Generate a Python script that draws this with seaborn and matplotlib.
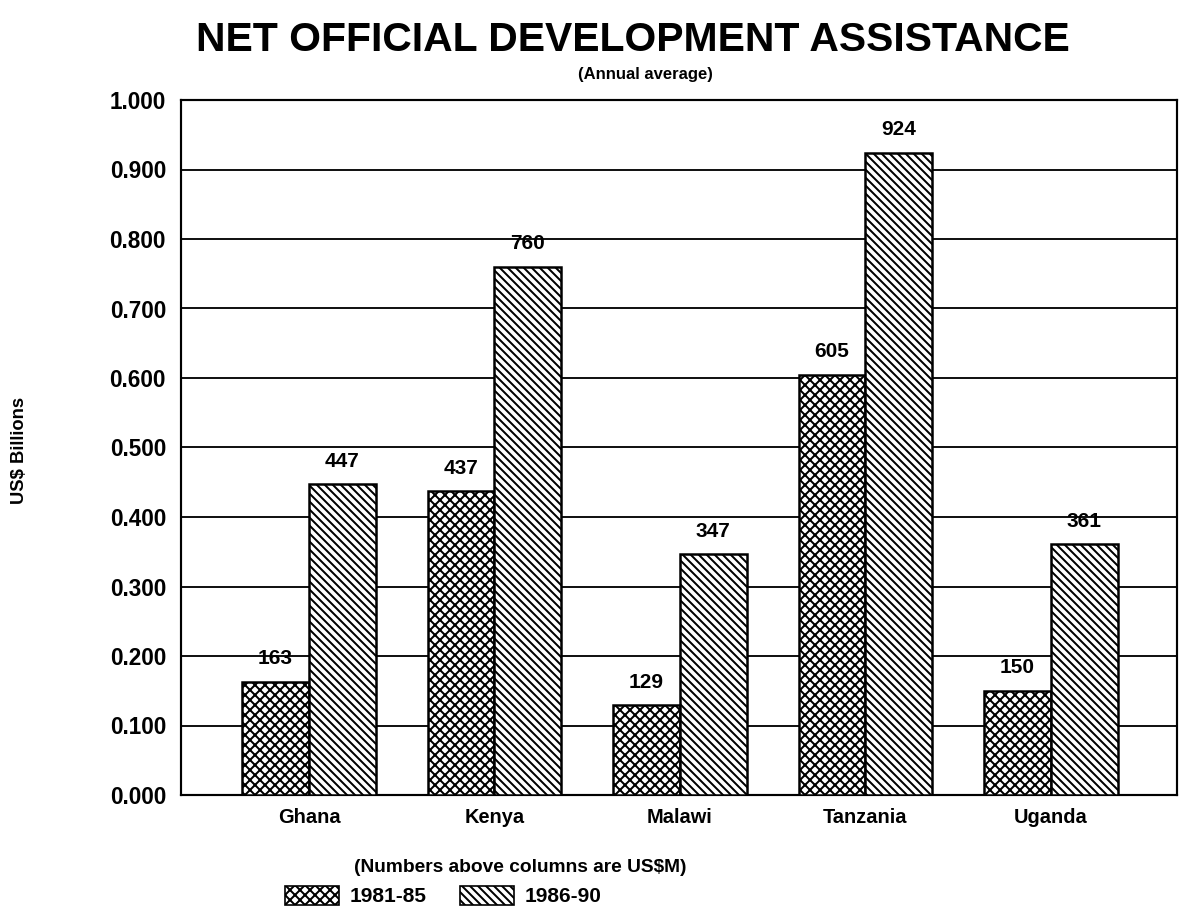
import pandas as pd
import matplotlib.pyplot as plt
import matplotlib.patches as mpatches
import seaborn as sns
from matplotlib.ticker import MultipleLocator, FormatStrFormatter

# Data (US$ millions, annual average)
COUNTRIES = ["Ghana", "Kenya", "Malawi", "Tanzania", "Uganda"]
PERIODS = ["1981-85", "1986-90"]
ODA_1981_85 = [163, 437, 129, 605, 150]
ODA_1986_90 = [447, 760, 347, 924, 361]
HATCHES = ["xxxx", "\\\\\\\\\\"]

sns.set_theme(style="white")
plt.rcParams['font.family'] = ['Liberation Sans', 'DejaVu Sans']
plt.rcParams['hatch.linewidth'] = 1.2
for key in ["text.color", "axes.labelcolor", "xtick.color", "ytick.color"]:
    plt.rcParams[key] = "black"

DPI = 120
W, H = 1179, 913

df = pd.DataFrame({
    "Country": COUNTRIES * 2,
    "Period": [PERIODS[0]] * len(COUNTRIES) + [PERIODS[1]] * len(COUNTRIES),
    "ODA_M": ODA_1981_85 + ODA_1986_90,
})
df["ODA_B"] = df["ODA_M"] / 1000.0

fig = plt.figure(figsize=(W / DPI, H / DPI), dpi=DPI)
ax = fig.add_axes([181 / W, 1 - 795 / H, (1177 - 181) / W, (795 - 100) / H])

sns.barplot(
    data=df, x="Country", y="ODA_B", hue="Period", hue_order=PERIODS,
    palette=["white", "white"], saturation=1, edgecolor="black",
    linewidth=1.5, width=0.72, legend=False, ax=ax,
)

# hatches + labels in US$M above each column
for cont, hatch, vals in zip(ax.containers, HATCHES, [ODA_1981_85, ODA_1986_90]):
    for bar in cont:
        bar.set_hatch(hatch)
        bar.set_zorder(3)
    ax.bar_label(cont, labels=[str(v) for v in vals], padding=8,
                 fontsize=12.5, fontweight="bold")

ax.set_xlim(-0.69, 4.68)
ax.set_ylim(0, 1.0)
ax.yaxis.set_major_locator(MultipleLocator(0.1))
ax.yaxis.set_major_formatter(FormatStrFormatter("%.3f"))
ax.grid(axis="y", color="black", linewidth=1.1)
ax.set_axisbelow(True)
for sp in ax.spines.values():
    sp.set_color("black")
    sp.set_linewidth(1.3)
ax.tick_params(axis="both", length=0)
ax.tick_params(axis="y", pad=9, labelsize=13.5)
ax.tick_params(axis="x", pad=8, labelsize=12)
for lab in ax.get_xticklabels() + ax.get_yticklabels():
    lab.set_fontweight("bold")
ax.set_xlabel("")
ax.set_ylabel("")

fig.text(633 / W, 1 - 40 / H, "NET OFFICIAL DEVELOPMENT ASSISTANCE",
         ha="center", va="center", fontsize=24.5, fontweight="bold")
fig.text(645 / W, 1 - 75 / H, "(Annual average)",
         ha="center", va="center", fontsize=10, fontweight="bold")
fig.text(20 / W, 1 - 450 / H, "US$ Billions", rotation=90,
         ha="center", va="center", fontsize=11, fontweight="bold")
fig.text(520 / W, 1 - 867 / H, "(Numbers above columns are US$M)",
         ha="center", va="center", fontsize=11.5, fontweight="bold")

handles = [mpatches.Patch(facecolor="white", edgecolor="black", hatch=h, label=p)
           for h, p in zip(HATCHES, PERIODS)]
fig.legend(handles=handles, loc="center", bbox_to_anchor=(443 / W, 1 - 896 / H),
           ncol=2, frameon=False, handlelength=2.6, handleheight=1.05,
           handletextpad=0.5, columnspacing=1.6,
           prop={"size": 12.5, "weight": "bold"})

fig.savefig("out.png", dpi=DPI)
